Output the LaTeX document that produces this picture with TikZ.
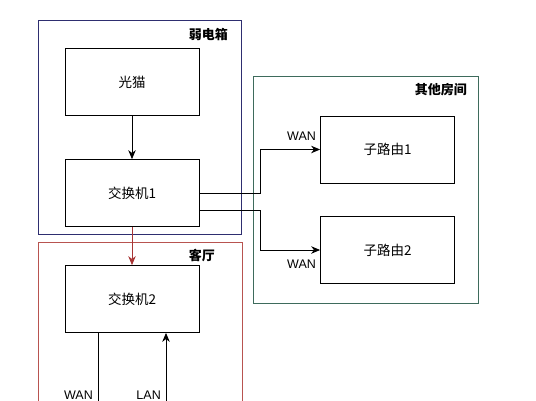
\documentclass[tikz,border=0pt]{standalone}
\usepackage{fontspec}
\setmainfont{Liberation Sans}
\newfontfamily\cjk{Noto Sans CJK SC}
\usetikzlibrary{arrows.meta}

\definecolor{boxblue}{HTML}{2E2E70}
\definecolor{boxgreen}{HTML}{3E6B5C}
\definecolor{boxred}{HTML}{B85450}
\definecolor{arrred}{HTML}{A83535}

\begin{document}
\begin{tikzpicture}[x=1pt, y=-1pt,
    dev/.style={draw, line width=0.8pt, minimum width=134pt, minimum height=67pt, font=\cjk\fontsize{13.5}{15}\selectfont},
    room/.style={line width=0.8pt},
    roomlabel/.style={anchor=east, inner sep=0, font=\cjk\bfseries\fontsize{13}{15}\selectfont},
    portlabel/.style={inner sep=0, font=\fontsize{12.5}{14}\selectfont},
    conn/.style={line width=0.8pt, -{Stealth[length=9pt,width=7.5pt]}}]
      \useasboundingbox (0,0) rectangle (536,400);
      \clip (0,0) rectangle (536,400);
      \fill[white] (0,0) rectangle (536,400);
      \draw[room, boxblue] (38,20) rectangle (241,234);
      \draw[room, boxgreen] (253,76) rectangle (478,303);
      \draw[room, boxred] (38,242) rectangle (242,420);
      \node[roomlabel] (rdx) at (228,35) {弱电箱};
      \node[roomlabel] (qtfj) at (467,90) {其他房间};
      \node[roomlabel] (kt) at (215,256) {客厅};
      \node[dev] (guangmao) at (132,82) {光猫};
      \node[dev] (jhj1) at (132,193) {交换机1};
      \node[dev] (jhj2) at (132,299) {交换机2};
      \node[dev] (zly1) at (387.5,149.5) {子路由1};
      \node[dev] (zly2) at (387.5,250) {子路由2};
      \coordinate (wanend) at (98,420);
      \coordinate (lanend) at (166,420);
      \draw[conn] (guangmao) -- (jhj1);
      \draw[conn, arrred] (jhj1) -- (jhj2);
      \draw[conn] (jhj1.east) -- ++(61,0) |- (zly1.west);
      \draw[conn] ([yshift=-17pt]jhj1.east) -- ++(61,0) |- (zly2.west);
      \draw[line width=0.8pt] (jhj2.south -| wanend) -- (wanend);
      \draw[conn] (lanend) -- (jhj2.south -| lanend);
      \node[portlabel, anchor=south east] (wan1) at ([xshift=-4pt,yshift=9pt]zly1.west) {WAN};
      \node[portlabel, anchor=north east] (wan2) at ([xshift=-4pt,yshift=-10pt]zly2.west) {WAN};
      \node[portlabel, anchor=north east] (wan3) at (93,391) {WAN};
      \node[portlabel, anchor=north east] (lan) at (161,391) {LAN};
\end{tikzpicture}
\end{document}
